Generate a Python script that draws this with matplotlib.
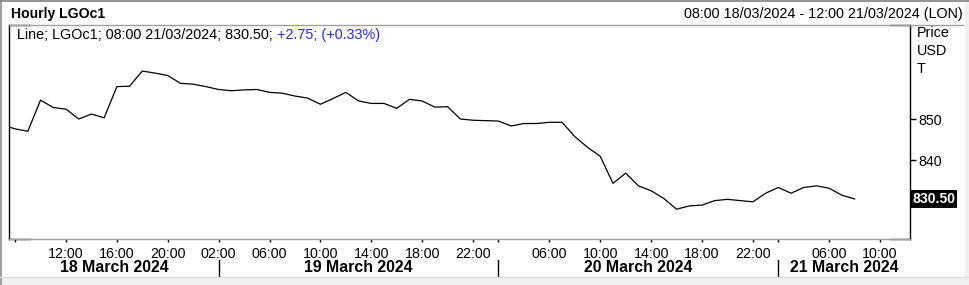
import matplotlib
matplotlib.use("Agg")
import matplotlib.pyplot as plt
import matplotlib.transforms as mtransforms
from matplotlib.lines import Line2D
from matplotlib.patches import Rectangle

# hourly bars per trading day (London time)
day_names = ["18 March 2024", "19 March 2024", "20 March 2024", "21 March 2024"]
day_dates = ["18/03/2024", "19/03/2024", "20/03/2024", "21/03/2024"]
day_hours = [list(range(7, 23)), list(range(1, 23)), list(range(1, 23)), list(range(1, 13))]
tick_hours = [[8, 12, 16, 20], [2, 6, 10, 14, 18, 22], [2, 6, 10, 14, 18, 22], [2, 6, 10]]
unlabelled = [("18/03/2024", 8), ("20/03/2024", 2), ("21/03/2024", 2)]

# LGOc1 close, 07:00 18/03 .. 08:00 21/03
prices = [
    848.5, 847.6, 847.0, 854.6, 852.8, 852.4, 850.0, 851.2, 850.3, 857.9,
    858.0, 861.7, 861.2, 860.6, 858.7, 858.5,
    857.9, 857.2, 856.9, 857.1, 857.2, 856.5, 856.3, 855.6, 855.1, 853.6,
    855.0, 856.5, 854.4, 853.8, 853.8, 852.6, 854.8, 854.4, 852.9, 853.0,
    850.0, 849.7,
    849.6, 849.5, 848.3, 848.9, 848.9, 849.2, 849.2, 845.7, 843.1, 840.9,
    834.3, 836.8, 833.7, 832.5, 830.6, 828.0, 828.8, 829.0, 830.1, 830.4,
    830.1, 829.8,
    831.9, 833.3, 831.9, 833.3, 833.7, 833.1, 831.4, 830.5,
]
change = 2.75
change_pct = 0.33
y_ticks = [840, 850]

slots = []
for d, hours in zip(day_dates, day_hours):
    for h in hours:
        slots.append((d, h))
pos = {s: i for i, s in enumerate(slots)}

W, H = 969, 285
plt.rcParams['font.family'] = ['Liberation Sans', 'DejaVu Sans']
fig = plt.figure(figsize=(W / 100, H / 100), dpi=100)
fig.patch.set_facecolor('white')

def fx(x):
    return x / W

def fy(y):
    return 1 - y / H

ax = fig.add_axes([fx(9), fy(239), fx(910) - fx(9), fy(25) - fy(239)])

x_left = pos[("18/03/2024", 8)] - 0.48
x_right = pos[("21/03/2024", 12)] + 0.35
ax.plot(range(len(prices)), prices, color='black', lw=0.9, solid_joinstyle='round')
ax.set_xlim(x_left, x_right)
ax.set_ylim(820.73, 872.93)

# axes frame
for s in ['left', 'right']:
    ax.spines[s].set_color('black')
    ax.spines[s].set_linewidth(1)
for s in ['top', 'bottom']:
    ax.spines[s].set_color('#a0a0a0')
    ax.spines[s].set_linewidth(1)
for yy in (0, 1):
    ax.add_line(Line2D([0, 0.0233], [yy, yy], transform=ax.transAxes, color='black', lw=1, clip_on=False))
    ax.add_line(Line2D([0.978, 1], [yy, yy], transform=ax.transAxes, color='black', lw=1, clip_on=False))

# y axis on the right
ax.yaxis.tick_right()
ax.set_yticks(y_ticks)
ax.set_yticklabels([str(v) for v in y_ticks])
ax.tick_params(axis='y', direction='out', length=4, width=1, pad=2, labelsize=10.3, colors='black')

# x ticks
xt, xl = [], []
for d, hours in zip(day_dates, tick_hours):
    for h in hours:
        xt.append(pos[(d, h)])
        xl.append('' if (d, h) in unlabelled else f"{h:02d}:00")
ax.set_xticks(xt)
ax.set_xticklabels(xl)
ax.tick_params(axis='x', direction='out', length=2.5, width=1, pad=3, labelsize=10.3, colors='black')

# day separators and day names
seps = [pos[(d, 2)] for d in day_dates[1:]]
bounds = [x_left] + seps + [x_right]
tr = mtransforms.blended_transform_factory(ax.transData, fig.transFigure)
for s in seps:
    ax.add_line(Line2D([s, s], [fy(260), fy(277)], transform=tr, color='black', lw=1, clip_on=False))
for name, a, b in zip(day_names, bounds[:-1], bounds[1:]):
    ax.text((a + b) / 2, fy(268), name, transform=tr, ha='center', va='center',
            fontsize=11.4, fontweight='bold')

# last value tag
ty = mtransforms.blended_transform_factory(ax.transAxes, ax.transData)
ax.text(1.003, prices[-1], f"{prices[-1]:.2f}", transform=ty, ha='left', va='center',
        color='white', fontsize=10.1, fontweight='bold',
        bbox=dict(boxstyle='square,pad=0.12', fc='black', ec='none'))

# header texts
fig.text(fx(11), fy(14), "Hourly LGOc1", ha='left', va='center', fontsize=10.1, fontweight='bold')
fig.text(fx(963), fy(14), "08:00 18/03/2024 - 12:00 21/03/2024 (LON)", ha='right', va='center', fontsize=10.4)
t1 = fig.text(fx(17), fy(35), f"Line; LGOc1; 08:00 21/03/2024; {prices[-1]:.2f}; ",
              ha='left', va='center', fontsize=10.4)
ax.annotate(f"{change:+.2f}; ({change_pct:+.2f}%)", xy=(1, 0), xycoords=t1, ha='left', va='bottom',
            fontsize=10.4, color='#2a2ae6', annotation_clip=False)
for k, lab in enumerate(["Price", "USD", "T"]):
    fig.text(fx(917), fy(33 + 18 * k), lab, ha='left', va='center', fontsize=10.4)

# header rule and window border
fig.add_artist(Line2D([fx(910), fx(963)], [fy(25), fy(25)], color='#a0a0a0', lw=1))
fig.add_artist(Rectangle((0, 0), 1, fy(277), transform=fig.transFigure, fc='#f0f0f0', ec='none'))
fig.add_artist(Line2D([0, 1], [fy(277), fy(277)], color='#dcdcdc', lw=1))
fig.add_artist(Rectangle((fx(965), 0), 1 - fx(965), 1, transform=fig.transFigure, fc='#f0f0f0', ec='none'))
fig.add_artist(Rectangle((0, 0), fx(2), 1, transform=fig.transFigure, fc='#a0a0a0', ec='none'))
fig.add_artist(Line2D([0, 1], [fy(0.5), fy(0.5)], color='#808080', lw=1.2))

fig.savefig('out.png', dpi=100, facecolor=fig.get_facecolor())
